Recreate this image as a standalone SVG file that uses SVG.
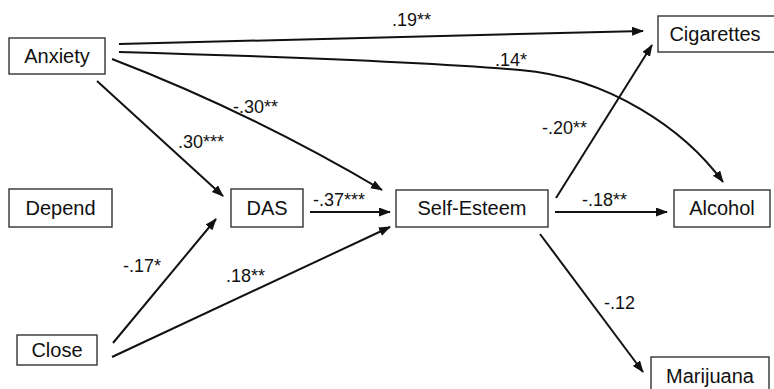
<svg xmlns="http://www.w3.org/2000/svg" width="774" height="389" viewBox="0 0 774 389">
<style>
.box{fill:#fff;stroke:#333;stroke-width:1.4}
.nt{font-family:"Liberation Sans",Arial,sans-serif;font-size:20px;fill:#111;text-anchor:middle}
.lb{font-family:"Liberation Sans",Arial,sans-serif;font-size:18px;fill:#111}
.ed{fill:none;stroke:#111;stroke-width:2;marker-end:url(#ah)}
</style>
<defs>
<marker id="ah" markerUnits="userSpaceOnUse" markerWidth="12" markerHeight="10" refX="11" refY="4.5" orient="auto">
<path d="M0,0 L12,4.5 L0,9 z" fill="#111"/>
</marker>
</defs>
<g id="connectors">
<path class="ed" d="M119,44 L643,31"/>
<path class="ed" d="M119,52 Q400,60 520,70 C610,77.5 685,130 723,182"/>
<path class="ed" d="M112,59 Q250,112 382,190"/>
<path class="ed" d="M97,81 L223,196"/>
<path class="ed" d="M310,212 L390,212"/>
<path class="ed" d="M113,343 L216,219"/>
<path class="ed" d="M112,357 L390,227"/>
<path class="ed" d="M556,198 L652,45"/>
<path class="ed" d="M555,212 L667,212"/>
<path class="ed" d="M540,234 L643,372"/>
</g>
<g id="labels">
<text class="lb" x="392" y="26">.19**</text>
<text class="lb" x="495" y="66">.14*</text>
<text class="lb" x="233" y="113">-.30**</text>
<text class="lb" x="178" y="148">.30***</text>
<text class="lb" x="313" y="206">-.37***</text>
<text class="lb" x="542" y="134">-.20**</text>
<text class="lb" x="582" y="206">-.18**</text>
<text class="lb" x="123" y="272">-.17*</text>
<text class="lb" x="226" y="282">.18**</text>
<text class="lb" x="604" y="309">-.12</text>
</g>
<g id="anxiety"><rect class="box" x="9" y="38" width="96" height="36"/><text class="nt" x="57" y="63">Anxiety</text></g>
<g id="depend"><rect class="box" x="9" y="189" width="103" height="38"/><text class="nt" x="60.5" y="215">Depend</text></g>
<g id="close"><rect class="box" x="17" y="335" width="80" height="30"/><text class="nt" x="57" y="357">Close</text></g>
<g id="das"><rect class="box" x="231" y="189" width="72" height="38"/><text class="nt" x="267" y="215">DAS</text></g>
<g id="self-esteem"><rect class="box" x="396" y="190" width="152" height="37"/><text class="nt" x="472" y="215">Self-Esteem</text></g>
<g id="cigarettes"><rect class="box" x="658" y="16" width="120" height="36"/><text class="nt" x="715" y="41">Cigarettes</text></g>
<g id="alcohol"><rect class="box" x="674" y="190" width="96" height="37"/><text class="nt" x="722" y="215">Alcohol</text></g>
<g id="marijuana"><rect class="box" x="651" y="357" width="118" height="40"/><text class="nt" x="710" y="383">Marijuana</text></g>
</svg>
